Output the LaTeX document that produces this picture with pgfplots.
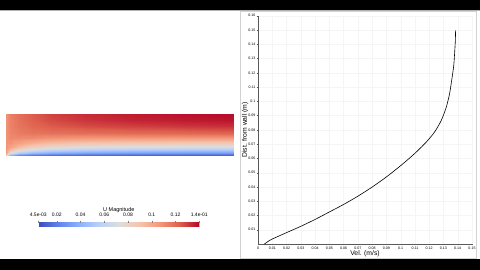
\documentclass[border=0pt]{standalone}
\usepackage{fontspec}
\setmainfont{Liberation Sans}
\usepackage{pgfplots}
\usepackage{pgfplotstable}
\pgfplotsset{compat=1.18}
\pgfplotstableread{
f eta u
0 0 0.0045
0.02 0 0.0045
0.06 0 0.0045
0.12 0 0.0045
0.2 0 0.0045
0.35 0 0.0045
0.55 0 0.0045
0.8 0 0.0045
1.0 0 0.0045
0 0.03 0.080
0.02 0.03 0.040
0.06 0.03 0.025
0.12 0.03 0.019
0.2 0.03 0.016
0.35 0.03 0.014
0.55 0.03 0.013
0.8 0.03 0.012
1.0 0.03 0.012
0 0.08 0.105
0.02 0.08 0.072
0.06 0.08 0.052
0.12 0.08 0.042
0.2 0.08 0.036
0.35 0.08 0.032
0.55 0.08 0.030
0.8 0.08 0.029
1.0 0.08 0.029
0 0.15 0.108
0.02 0.15 0.093
0.06 0.15 0.077
0.12 0.15 0.066
0.2 0.15 0.059
0.35 0.15 0.054
0.55 0.15 0.051
0.8 0.15 0.050
1.0 0.15 0.050
0 0.22 0.108
0.02 0.22 0.103
0.06 0.22 0.092
0.12 0.22 0.083
0.2 0.22 0.077
0.35 0.22 0.072
0.55 0.22 0.070
0.8 0.22 0.069
1.0 0.22 0.069
0 0.3 0.108
0.02 0.3 0.108
0.06 0.3 0.103
0.12 0.3 0.097
0.2 0.3 0.092
0.35 0.3 0.088
0.55 0.3 0.087
0.8 0.3 0.086
1.0 0.3 0.086
0 0.42 0.108
0.02 0.42 0.111
0.06 0.42 0.111
0.12 0.42 0.110
0.2 0.42 0.108
0.35 0.42 0.106
0.55 0.42 0.106
0.8 0.42 0.106
1.0 0.42 0.106
0 0.55 0.108
0.02 0.55 0.112
0.06 0.55 0.115
0.12 0.55 0.117
0.2 0.55 0.118
0.35 0.55 0.119
0.55 0.55 0.120
0.8 0.55 0.121
1.0 0.55 0.122
0 0.7 0.108
0.02 0.7 0.113
0.06 0.7 0.117
0.12 0.7 0.121
0.2 0.7 0.124
0.35 0.7 0.127
0.55 0.7 0.129
0.8 0.7 0.131
1.0 0.7 0.132
0 0.85 0.108
0.02 0.85 0.113
0.06 0.85 0.118
0.12 0.85 0.123
0.2 0.85 0.127
0.35 0.85 0.131
0.55 0.85 0.134
0.8 0.85 0.136
1.0 0.85 0.137
0 1.0 0.108
0.02 1.0 0.114
0.06 1.0 0.119
0.12 1.0 0.124
0.2 1.0 0.129
0.35 1.0 0.133
0.55 1.0 0.136
0.8 1.0 0.138
1.0 1.0 0.139
}\fieldtable
\pgfplotstableread{
vel dist
0.0045 0
0.0062 0.0012
0.0080 0.0024
0.0096 0.0033
0.0189 0.0075
0.0294 0.0121
0.0400 0.0172
0.0503 0.0226
0.0600 0.0277
0.0700 0.0335
0.0800 0.0399
0.0900 0.0470
0.1000 0.0549
0.1060 0.0600
0.1110 0.0645
0.1180 0.0715
0.1238 0.0785
0.1285 0.0867
0.1320 0.0960
0.1343 0.1054
0.1361 0.1170
0.1372 0.1250
0.1378 0.1334
0.1383 0.1420
0.1385 0.1497
}\profiletable
\begin{document}
\begin{tikzpicture}
\useasboundingbox (0pt,0pt) rectangle (480pt,270pt);
\fill[white] (0pt,0pt) rectangle (480pt,270pt);
\fill[black] (0pt,259.5pt) rectangle (480pt,270pt);
\fill[black] (0pt,0pt) rectangle (480pt,11pt);
\draw[gray!60, line width=0.8pt] (0pt,259.3pt) -- (480pt,259.3pt);
\draw[gray!35, line width=0.6pt] (240.5pt,11.5pt) rectangle (476.5pt,259pt);
% field view
\begin{axis}[
  at={(5.7pt,114pt)}, anchor=south west, scale only axis,
  width=228.3pt, height=42.7pt,
  view={0}{90}, xmin=0, xmax=1, ymin=0, ymax=1, zmin=-1, zmax=1,
  hide axis,
  colormap={cw}{rgb255=(59,76,192) rgb255=(98,130,234) rgb255=(141,176,254) rgb255=(184,208,249) rgb255=(221,221,221) rgb255=(245,196,173) rgb255=(244,154,123) rgb255=(222,96,77) rgb255=(180,4,38)},
  point meta min=0.0045, point meta max=0.14,
  colorbar horizontal,
  colorbar style={
    at={(0.4954,-1.562)}, anchor=north,
    width=161pt, height=4.3pt, scale only axis,
    xtick={0.0045,0.02,0.04,0.06,0.08,0.1,0.12,0.14},
    xticklabels={4.5e-03,0.02,0.04,0.06,0.08,0.1,0.12,1.4e-01},
    xticklabel pos=right, xtick pos=right,
    tick align=outside, major tick length=2pt,
    tick style={gray, line width=0.3pt},
    axis line style={draw=none},
    xticklabel style={font=\fontsize{5}{6}\selectfont, inner sep=0.8pt, yshift=3.5pt},
    title={U Magnitude},
    title style={font=\fontsize{5.5}{6}\selectfont, inner sep=0.5pt, yshift=3pt},
  },
]
\addplot3[surf, shader=interp, mesh/cols=9, mesh/rows=11, point meta=\thisrow{u}]
  table[x=f, y=eta, z expr=0] {\fieldtable};
\end{axis}
% line chart
\begin{axis}[
  at={(258pt,26pt)}, anchor=south west, scale only axis,
  width=214pt, height=228.3pt,
  xmin=0, xmax=0.15, ymin=0, ymax=0.16,
  axis lines*=left,
  axis line style={gray!70!black, line width=0.4pt},
  tick align=outside, major tick length=1.5pt,
  tick style={gray!70!black, line width=0.3pt},
  xtick={0,0.01,0.02,0.03,0.04,0.05,0.06,0.07,0.08,0.09,0.1,0.11,0.12,0.13,0.14,0.15},
  ytick={0.01,0.02,0.03,0.04,0.05,0.06,0.07,0.08,0.09,0.1,0.11,0.12,0.13,0.14,0.15,0.16},
  scaled ticks=false,
  ticklabel style={font=\fontsize{3.6}{4}\selectfont, inner sep=1pt,
    /pgf/number format/fixed, /pgf/number format/precision=2,
    /pgf/number format/assume math mode=true},
  grid=major, grid style={gray!8, line width=0.3pt},
  xlabel={Vel. (m/s)}, ylabel={Dist. from wall (m)},
  label style={font=\fontsize{6.8}{7}\selectfont},
  xlabel style={at={(axis description cs:0.5,-0.0438)}, anchor=center},
  ylabel style={at={(axis description cs:-0.0607,0.5)}, anchor=center},
  clip=false,
]
\addplot[black, line width=0.6pt, smooth, tension=0.4] table[x=vel, y=dist] {\profiletable};
\end{axis}
\end{tikzpicture}
\end{document}
